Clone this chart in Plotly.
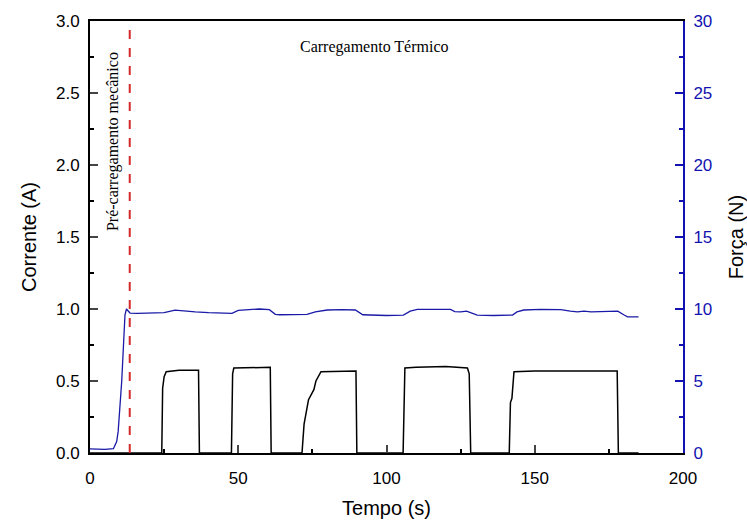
import plotly.graph_objects as go

# Current (A) vs time (s)
t_current = [0, 24.2, 24.5, 25.0, 25.7, 30, 36.6, 36.9, 47.7, 48.1, 48.5, 55, 60.8, 61.1,
             71.5, 72.2, 73.7, 75.5, 76.2, 77.9, 85, 89.7, 90.0, 105.6, 106.2, 110, 120,
             127.3, 127.9, 128.4, 141.4, 141.8, 142.3, 143.0, 150, 170, 177.8, 178.2, 185]
current = [0, 0, 0.45, 0.53, 0.565, 0.575, 0.575, 0, 0, 0.55, 0.59, 0.595, 0.595, 0,
           0, 0.2, 0.37, 0.44, 0.5, 0.565, 0.57, 0.57, 0, 0, 0.59, 0.595, 0.60,
           0.59, 0.55, 0, 0, 0.35, 0.38, 0.565, 0.57, 0.57, 0.57, 0, 0]

# Force (N) vs time (s)
t_force = [0, 5, 7.9, 9.0, 9.5, 10.0, 10.7, 11.3, 11.8, 12.3, 12.9, 13.5, 16, 20, 25, 28.7,
           32, 35.5, 40, 47.9, 50, 53, 57, 60.5, 62.5, 64, 68, 73.2, 76, 80, 85, 89.5, 92,
           100, 105.7, 108, 110.4, 116, 121.6, 123, 125, 127, 128.5, 130.6, 136, 142.5,
           144, 146.3, 152, 158.8, 162, 164.4, 166.6, 169, 172, 178, 180, 181.3, 185]
force = [0.28, 0.25, 0.3, 0.8, 1.5, 2.8, 5.0, 7.5, 9.6, 10.0, 9.85, 9.72, 9.7, 9.7, 9.75, 9.92,
         9.85, 9.8, 9.75, 9.7, 9.9, 9.95, 10.0, 9.95, 9.63, 9.6, 9.6, 9.62, 9.8, 9.93, 9.95, 9.93, 9.6,
         9.55, 9.58, 9.85, 9.98, 10.0, 9.97, 9.82, 9.8, 9.85, 9.75, 9.58, 9.55, 9.58,
         9.8, 9.93, 9.97, 9.95, 9.85, 9.8, 9.85, 9.8, 9.82, 9.85, 9.6, 9.45, 9.45]

preload_t = 13.4
x_ticks = [0, 50, 100, 150, 200]
y_ticks = [0.0, 0.5, 1.0, 1.5, 2.0, 2.5, 3.0]
y2_ticks = [0, 5, 10, 15, 20, 25, 30]

BLUE = "#1a1aa8"
AX_BLUE = "#1212b0"

fig = go.Figure()
fig.add_trace(go.Scatter(x=t_current, y=current, mode="lines",
                         line=dict(color="black", width=1.5), showlegend=False))
fig.add_trace(go.Scatter(x=t_force, y=force, mode="lines", yaxis="y2",
                         line=dict(color=BLUE, width=1.3), showlegend=False))
fig.add_trace(go.Scatter(x=[preload_t, preload_t], y=[0, 3], mode="lines",
                         line=dict(color="#d42a2a", width=2, dash="dash"), showlegend=False))

fig.add_annotation(x=96, y=2.82, text="Carregamento Térmico", showarrow=False,
                   font=dict(family="Liberation Serif", size=16, color="black"))
fig.add_annotation(x=7.8, y=2.16, text="Pré-carregamento mecânico", showarrow=False,
                   textangle=-90, font=dict(family="Liberation Serif", size=16, color="black"))

fig.update_layout(
    width=747, height=524,
    margin=dict(l=90, r=64, t=21, b=71),
    paper_bgcolor="white", plot_bgcolor="white",
    font=dict(family="Liberation Sans", color="black"),
    xaxis=dict(range=[0, 200], tickvals=x_ticks, ticks="inside", ticklen=8, tickwidth=1.5,
               showline=True, linecolor="black", linewidth=2, mirror=True, automargin=False,
               showgrid=False, zeroline=False, ticklabelstandoff=9,
               tickfont=dict(size=17, color="black"),
               minor=dict(dtick=25, tick0=0, ticks="inside", ticklen=4, tickcolor="black"),
               title=dict(text="Tempo (s)", font=dict(size=20), standoff=14)),
    yaxis=dict(range=[0, 3], tickvals=y_ticks, tickformat=".1f", ticks="inside", ticklen=8,
               tickwidth=1.5, showline=True, linecolor="black", linewidth=2, automargin=False,
               showgrid=False, zeroline=False, ticklabelstandoff=5,
               tickfont=dict(size=17, color="black"),
               minor=dict(dtick=0.25, tick0=0, ticks="inside", ticklen=4, tickcolor="black"),
               title=dict(text="Corrente (A)", font=dict(size=20), standoff=14)),
    yaxis2=dict(range=[0, 30], tickvals=y2_ticks, overlaying="y", side="right",
                ticks="inside", ticklen=8, tickwidth=1.5, tickcolor=AX_BLUE, automargin=False,
                showline=True, linecolor=AX_BLUE, linewidth=2,
                showgrid=False, zeroline=False, ticklabelstandoff=5,
                tickfont=dict(size=17, color=AX_BLUE),
                minor=dict(dtick=2.5, tick0=0, ticks="inside", ticklen=4, tickcolor=AX_BLUE),
                title=dict(text="Força (N)", font=dict(size=20, color="black"), standoff=18)),
)

fig.write_html("out.html")
